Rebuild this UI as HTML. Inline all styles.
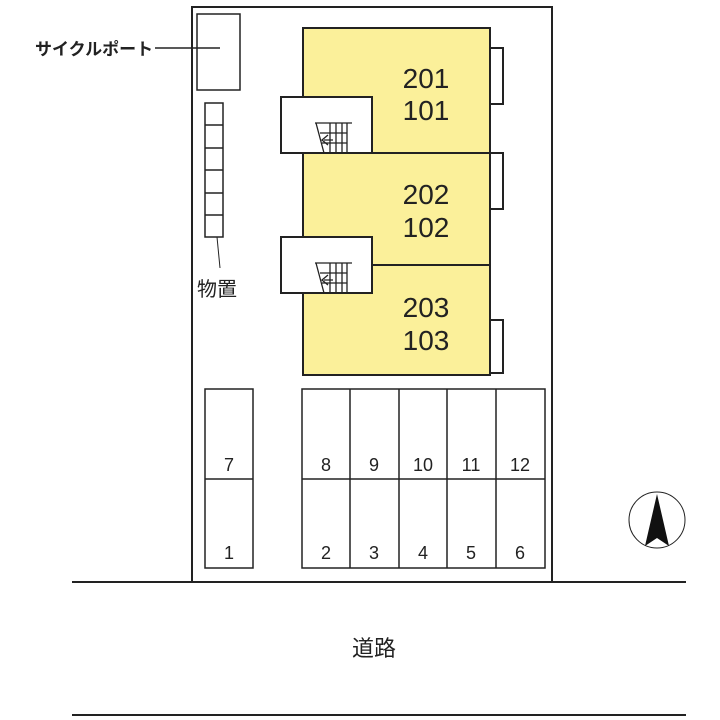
<!DOCTYPE html>
<html><head><meta charset="utf-8"><style>
body{margin:0;background:#fff}
svg{display:block}
text{font-family:"Liberation Sans","Noto Sans CJK JP",sans-serif;fill:#222}
</style></head><body>
<svg width="720" height="720" viewBox="0 0 720 720" xmlns="http://www.w3.org/2000/svg">
<g fill="none" stroke="#222" stroke-width="2">
<path d="M192 582 V7 H552 V582"/>
<line x1="72" y1="582" x2="686" y2="582"/>
<line x1="72" y1="715" x2="686" y2="715"/>
<rect x="197" y="14" width="43" height="76" stroke-width="1.5"/>
<line x1="155" y1="48" x2="220" y2="48" stroke-width="1.5"/>
<rect x="205" y="103" width="18" height="134" stroke-width="1.5"/>
<path d="M205 125H223M205 148H223M205 170H223M205 193H223M205 215H223" stroke-width="1.5"/>
<line x1="217" y1="237" x2="220" y2="268" stroke-width="1"/>
<rect x="303" y="28" width="187" height="347" fill="#fbf09a"/>
<line x1="303" y1="153" x2="490" y2="153"/>
<line x1="303" y1="265" x2="490" y2="265"/>
<path d="M490 48H503V104H490M490 153H503V209H490M490 320H503V373H490"/>
<rect x="281" y="97" width="91" height="56" fill="#fff"/>
<rect x="281" y="237" width="91" height="56" fill="#fff"/>
<g stroke-width="1.3">
<path d="M315 123H352M316 123L324 153M330 123V153M336 123V153M342 123V153M347 123V153M320 133H347M322 143H347M333 140H324M328 135L322 140L328 145"/>
<path d="M315 263H352M316 263L324 293M330 263V293M336 263V293M342 263V293M347 263V293M320 273H347M322 283H347M333 280H324M328 275L322 280L328 285"/>
</g>
<g stroke-width="1.5">
<rect x="205" y="389" width="48" height="179"/>
<line x1="205" y1="479" x2="253" y2="479"/>
<rect x="302" y="389" width="243" height="179"/>
<line x1="302" y1="479" x2="545" y2="479"/>
<path d="M350 389V568M399 389V568M447 389V568M496 389V568"/>
</g>
<circle cx="657" cy="520" r="28" stroke-width="1"/>
</g>
<path d="M657 494L645 546L657 538L669 546Z" fill="#111"/>
<g font-size="18" text-anchor="middle">
<text x="229" y="471">7</text><text x="229" y="559">1</text>
<text x="326" y="471">8</text><text x="374" y="471">9</text><text x="423" y="471">10</text><text x="471" y="471">11</text><text x="520" y="471">12</text>
<text x="326" y="559">2</text><text x="374" y="559">3</text><text x="423" y="559">4</text><text x="471" y="559">5</text><text x="520" y="559">6</text>
</g>
<g font-size="28" text-anchor="middle">
<text x="426" y="88">201</text><text x="426" y="120">101</text>
<text x="426" y="204">202</text><text x="426" y="237">102</text>
<text x="426" y="317">203</text><text x="426" y="350">103</text>
</g>
<text x="35" y="55" font-size="17" font-weight="bold">サイクルポート</text>
<text x="197" y="296" font-size="20">物置</text>
<text x="352" y="656" font-size="22">道路</text>
</svg>
</body></html>
